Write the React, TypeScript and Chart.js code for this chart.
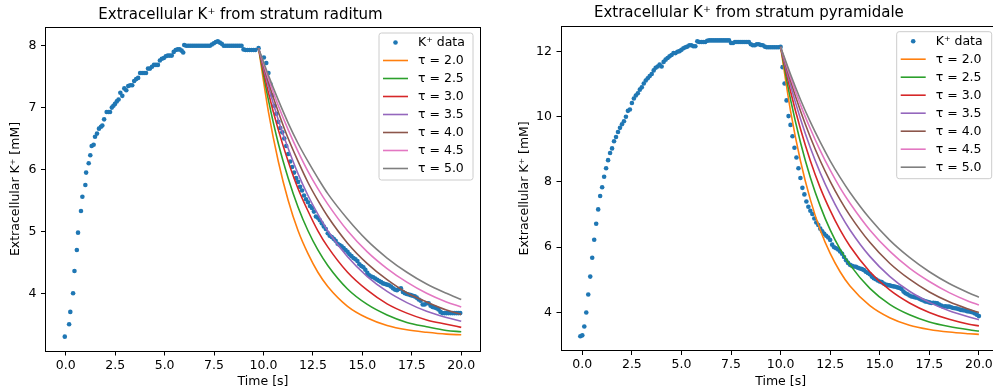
import React, { useEffect, useRef } from "react";
import { Chart, registerables } from "chart.js";

Chart.register(...registerables);

const FONT = "'DejaVu Sans', sans-serif";
const DATA_COLOR = "#1f77b4";
const TAU_LABELS = ["τ = 2.0", "τ = 2.5", "τ = 3.0", "τ = 3.5", "τ = 4.0", "τ = 4.5", "τ = 5.0"];
const TAU_COLORS = ["#ff7f0e", "#2ca02c", "#d62728", "#9467bd", "#8c564b", "#e377c2", "#7f7f7f"];
const X_TICKS = [0, 2.5, 5, 7.5, 10, 12.5, 15, 17.5, 20];
const LEFT_Y_TICKS = [4, 5, 6, 7, 8];
const RIGHT_Y_TICKS = [4, 6, 8, 10, 12];

// ---- stratum raditum data ----
const leftTime = [
  -0.05, 0.17, 0.23, 0.37, 0.44, 0.56, 0.62, 0.77, 0.84, 0.99, 1.03, 1.16, 1.24, 1.31, 1.41, 1.48, 1.58, 1.68, 1.78, 1.85,
  1.94, 2.07, 2.16, 2.24, 2.33, 2.41, 2.49, 2.58, 2.67, 2.76, 2.86, 2.96, 3.06, 3.16, 3.26, 3.36, 3.46, 3.56, 3.66, 3.76,
  3.86, 3.96, 4.06, 4.16, 4.26, 4.36, 4.46, 4.56, 4.66, 4.76, 4.86, 4.96, 5.06, 5.16, 5.26, 5.36, 5.46, 5.56, 5.66, 5.76,
  5.86, 5.94, 5.99, 6.09, 6.19, 6.29, 6.39, 6.49, 6.59, 6.69, 6.79, 6.89, 6.99, 7.09, 7.19, 7.29, 7.39, 7.49, 7.59, 7.69,
  7.79, 7.89, 7.99, 8.09, 8.19, 8.29, 8.39, 8.49, 8.59, 8.69, 8.79, 8.89, 8.99, 9.09, 9.19, 9.29, 9.39, 9.49, 9.59, 9.75,
  10.02, 10.14, 10.25, 10.35, 10.45, 10.55, 10.65, 10.75, 10.85, 10.95, 11.05, 11.15, 11.25, 11.35, 11.45, 11.55, 11.65, 11.75, 11.85, 11.95,
  12.05, 12.15, 12.25, 12.35, 12.45, 12.55, 12.65, 12.75, 12.85, 12.95, 13.05, 13.15, 13.25, 13.35, 13.45, 13.55, 13.65, 13.75, 13.85, 13.95,
  14.05, 14.15, 14.25, 14.35, 14.45, 14.55, 14.65, 14.75, 14.85, 14.95, 15.05, 15.15, 15.25, 15.35, 15.45, 15.55, 15.65, 15.75, 15.85, 15.95,
  16.05, 16.15, 16.25, 16.35, 16.45, 16.55, 16.65, 16.75, 16.85, 16.95, 17.05, 17.15, 17.25, 17.35, 17.45, 17.55, 17.65, 17.75, 17.85, 17.95,
  18.05, 18.15, 18.25, 18.35, 18.45, 18.55, 18.65, 18.75, 18.85, 18.95, 19.05, 19.15, 19.25, 19.35, 19.45, 19.55, 19.65, 19.75, 19.85, 19.95,
];
const leftK = [
  3.30, 3.50, 3.70, 4.00, 4.36, 4.70, 4.98, 5.33, 5.56, 5.75, 5.95, 6.10, 6.23, 6.38, 6.40, 6.53, 6.58, 6.66, 6.69, 6.71,
  6.81, 6.93, 6.93, 6.93, 7.00, 7.03, 7.06, 7.10, 7.13, 7.24, 7.19, 7.31, 7.28, 7.35, 7.36, 7.36, 7.43, 7.46, 7.48, 7.56,
  7.56, 7.56, 7.56, 7.63, 7.63, 7.66, 7.69, 7.69, 7.69, 7.76, 7.79, 7.80, 7.83, 7.84, 7.84, 7.84, 7.90, 7.93, 7.94, 7.94,
  7.92, 7.89, 8.01, 8.00, 8.00, 8.00, 8.00, 8.00, 8.00, 8.00, 8.00, 8.00, 8.00, 8.00, 8.00, 8.00, 8.02, 8.04, 8.06, 8.07,
  8.05, 8.03, 8.00, 8.00, 8.00, 8.00, 8.00, 8.00, 8.00, 8.00, 8.00, 8.00, 7.94, 7.93, 7.93, 7.93, 7.93, 7.93, 7.93, 7.96,
  7.81, 7.72, 7.56, 7.38, 7.20, 7.03, 6.90, 6.77, 6.67, 6.60, 6.50, 6.38, 6.25, 6.13, 6.04, 5.95, 5.86, 5.80, 5.72, 5.66,
  5.58, 5.52, 5.47, 5.41, 5.38, 5.32, 5.24, 5.22, 5.18, 5.13, 5.08, 5.04, 4.97, 4.93, 4.91, 4.88, 4.85, 4.80, 4.78, 4.76,
  4.73, 4.70, 4.67, 4.63, 4.60, 4.57, 4.55, 4.52, 4.47, 4.44, 4.42, 4.38, 4.33, 4.29, 4.27, 4.26, 4.24, 4.22, 4.20, 4.18,
  4.16, 4.15, 4.14, 4.13, 4.11, 4.08, 4.06, 4.05, 4.07, 4.08, 4.02, 4.00, 3.99, 3.98, 3.97, 3.96, 3.95, 3.93, 3.90, 3.88,
  3.82, 3.82, 3.84, 3.84, 3.80, 3.78, 3.77, 3.76, 3.74, 3.70, 3.68, 3.68, 3.68, 3.68, 3.68, 3.68, 3.68, 3.68, 3.68, 3.68,
];
const leftFitTime = [9.75, 10.25, 10.75, 11.25, 11.75, 12.25, 12.75, 13.25, 14.25, 15.25, 16.25, 17.25, 18.25, 19.25, 20.0];
const leftTau20 = [7.96, 6.93, 6.13, 5.50, 5.01, 4.64, 4.34, 4.11, 3.79, 3.60, 3.48, 3.41, 3.37, 3.34, 3.33];
const leftTau25 = [7.96, 7.12, 6.42, 5.86, 5.39, 5.01, 4.70, 4.45, 4.07, 3.82, 3.65, 3.53, 3.46, 3.40, 3.38];
const leftTau30 = [7.96, 7.24, 6.64, 6.13, 5.69, 5.33, 5.01, 4.75, 4.34, 4.05, 3.83, 3.68, 3.57, 3.50, 3.45];
const leftTau35 = [7.96, 7.34, 6.80, 6.34, 5.93, 5.58, 5.28, 5.01, 4.59, 4.27, 4.03, 3.85, 3.71, 3.61, 3.55];
const leftTau40 = [7.96, 7.41, 6.93, 6.50, 6.13, 5.79, 5.50, 5.24, 4.81, 4.48, 4.22, 4.01, 3.86, 3.73, 3.66];
const leftTau45 = [7.96, 7.47, 7.03, 6.64, 6.29, 5.97, 5.69, 5.44, 5.01, 4.67, 4.40, 4.18, 4.00, 3.86, 3.78];
const leftTau50 = [7.96, 7.52, 7.12, 6.75, 6.42, 6.13, 5.86, 5.61, 5.20, 4.85, 4.57, 4.34, 4.15, 4.00, 3.90];

// ---- stratum pyramidale data ----
const rightTime = [
  -0.1, 0.0, 0.1, 0.2, 0.3, 0.4, 0.5, 0.6, 0.7, 0.8, 0.9, 1.0, 1.1, 1.2, 1.3, 1.4, 1.5, 1.6, 1.7, 1.8,
  1.9, 2.0, 2.1, 2.2, 2.3, 2.4, 2.5, 2.6, 2.7, 2.8, 2.9, 3.0, 3.1, 3.2, 3.3, 3.4, 3.5, 3.6, 3.7, 3.8,
  3.9, 4.0, 4.1, 4.2, 4.3, 4.4, 4.5, 4.6, 4.7, 4.8, 4.9, 5.0, 5.1, 5.2, 5.3, 5.4, 5.5, 5.6, 5.7, 5.8,
  5.9, 6.0, 6.1, 6.2, 6.3, 6.4, 6.5, 6.6, 6.7, 6.8, 6.9, 7.0, 7.1, 7.2, 7.3, 7.4, 7.5, 7.6, 7.7, 7.8,
  7.9, 8.0, 8.1, 8.2, 8.3, 8.4, 8.5, 8.6, 8.7, 8.8, 8.9, 9.0, 9.1, 9.2, 9.3, 9.4, 9.5, 9.6, 9.7, 9.8,
  9.9, 10.0, 10.1, 10.2, 10.3, 10.4, 10.5, 10.6, 10.7, 10.8, 10.9, 11.0, 11.1, 11.2, 11.3, 11.4, 11.5, 11.6, 11.7, 11.8,
  11.9, 12.0, 12.1, 12.2, 12.3, 12.4, 12.5, 12.6, 12.7, 12.8, 12.9, 13.0, 13.1, 13.2, 13.3, 13.4, 13.5, 13.6, 13.7, 13.8,
  13.9, 14.0, 14.1, 14.2, 14.3, 14.4, 14.5, 14.6, 14.7, 14.8, 14.9, 15.0, 15.1, 15.2, 15.3, 15.4, 15.5, 15.6, 15.7, 15.8,
  15.9, 16.0, 16.1, 16.2, 16.3, 16.4, 16.5, 16.6, 16.7, 16.8, 16.9, 17.0, 17.1, 17.2, 17.3, 17.4, 17.5, 17.6, 17.7, 17.8,
  17.9, 18.0, 18.1, 18.2, 18.3, 18.4, 18.5, 18.6, 18.7, 18.8, 18.9, 19.0, 19.1, 19.2, 19.3, 19.4, 19.5, 19.6, 19.7, 19.8,
  19.9, 20.0,
];
const rightK = [
  3.27, 3.30, 3.57, 4.00, 4.55, 5.10, 5.68, 6.23, 6.72, 7.16, 7.57, 7.84, 8.16, 8.42, 8.67, 8.89, 9.03, 9.25, 9.38, 9.53,
  9.66, 9.77, 9.86, 10.00, 10.18, 10.22, 10.42, 10.56, 10.65, 10.72, 10.83, 10.90, 11.02, 11.11, 11.18, 11.25, 11.31, 11.42, 11.50, 11.54,
  11.60, 11.54, 11.68, 11.75, 11.80, 11.85, 11.89, 11.95, 11.95, 11.99, 12.01, 12.05, 12.10, 12.13, 12.15, 12.19, 12.19, 12.16, 12.16, 12.31,
  12.29, 12.29, 12.29, 12.29, 12.33, 12.34, 12.34, 12.34, 12.34, 12.34, 12.34, 12.34, 12.34, 12.34, 12.34, 12.34, 12.26, 12.26, 12.29, 12.29,
  12.29, 12.29, 12.29, 12.29, 12.29, 12.29, 12.22, 12.19, 12.19, 12.22, 12.22, 12.20, 12.19, 12.15, 12.13, 12.13, 12.13, 12.13, 12.13, 12.13,
  12.13, 12.14, 11.52, 11.02, 10.50, 10.02, 9.75, 9.40, 9.05, 8.75, 8.42, 8.12, 7.82, 7.62, 7.40, 7.24, 7.12, 7.02, 6.88, 6.76,
  6.68, 6.57, 6.49, 6.41, 6.35, 6.30, 6.22, 6.08, 6.00, 5.97, 5.93, 5.87, 5.80, 5.70, 5.60, 5.52, 5.46, 5.43, 5.41, 5.40,
  5.37, 5.35, 5.33, 5.30, 5.25, 5.21, 5.17, 5.10, 5.05, 5.02, 4.98, 4.95, 4.93, 4.89, 4.86, 4.84, 4.83, 4.81, 4.80, 4.79,
  4.77, 4.75, 4.72, 4.64, 4.59, 4.56, 4.52, 4.49, 4.48, 4.46, 4.45, 4.42, 4.39, 4.37, 4.34, 4.33, 4.31, 4.29, 4.30, 4.29,
  4.28, 4.24, 4.21, 4.18, 4.19, 4.18, 4.18, 4.16, 4.14, 4.13, 4.12, 4.10, 4.08, 4.07, 4.06, 4.04, 4.03, 4.02, 4.00, 3.97,
  3.93, 3.89,
];
const rightFitTime = [10.0, 10.5, 11.0, 11.5, 12.0, 12.5, 13.0, 13.5, 14.5, 15.5, 16.5, 17.5, 18.5, 19.5, 20.0];
const rightTau20 = [12.14, 10.18, 8.65, 7.46, 6.53, 5.81, 5.25, 4.81, 4.21, 3.84, 3.61, 3.48, 3.40, 3.35, 3.33];
const rightTau25 = [12.14, 10.53, 9.22, 8.14, 7.26, 6.53, 5.94, 5.46, 4.74, 4.25, 3.93, 3.71, 3.57, 3.47, 3.43];
const rightTau30 = [12.14, 10.78, 9.63, 8.65, 7.82, 7.13, 6.53, 6.03, 5.25, 4.69, 4.29, 4.00, 3.79, 3.64, 3.59];
const rightTau35 = [12.14, 10.96, 9.94, 9.05, 8.28, 7.61, 7.03, 6.53, 5.72, 5.11, 4.65, 4.31, 4.05, 3.86, 3.78];
const rightTau40 = [12.14, 11.10, 10.18, 9.37, 8.65, 8.02, 7.46, 6.97, 6.15, 5.51, 5.02, 4.63, 4.33, 4.10, 4.00];
const rightTau45 = [12.14, 11.21, 10.37, 9.63, 8.96, 8.36, 7.82, 7.35, 6.53, 5.88, 5.36, 4.95, 4.61, 4.34, 4.23];
const rightTau50 = [12.14, 11.30, 10.53, 9.84, 9.22, 8.65, 8.14, 7.68, 6.88, 6.22, 5.69, 5.25, 4.89, 4.60, 4.47];

const LEGEND_FONT_SIZE = 12.5;
const TICK_FONT_SIZE = 12.5;
const TITLE_FONT_SIZE = 15;

const frameAndLegend = {
  id: "frameAndLegend",
  afterDatasetsDraw(chart: any, _args: any, opts: any) {
    const { ctx, chartArea } = chart;
    ctx.save();
    // axes frame (spines)
    ctx.strokeStyle = "#000";
    ctx.lineWidth = 1;
    const l = Math.round(chartArea.left) + 0.5;
    const t = Math.round(chartArea.top) + 0.5;
    const r = Math.round(chartArea.right) - 0.5;
    const b = Math.round(chartArea.bottom) - 0.5;
    ctx.strokeRect(l, t, r - l, b - t);

    // legend box (upper right)
    const ds = chart.data.datasets;
    ctx.font = `${LEGEND_FONT_SIZE}px ${FONT}`;
    const padL = 4, handleLen = 25, gap = 10, rowH = 18;
    const w = opts.width;
    const h = ds.length * rowH + 3;
    const x = chartArea.right - opts.right - w;
    const y = chartArea.top + opts.top;
    const rad = 2.5;
    ctx.beginPath();
    ctx.moveTo(x + rad, y);
    ctx.lineTo(x + w - rad, y);
    ctx.arcTo(x + w, y, x + w, y + rad, rad);
    ctx.lineTo(x + w, y + h - rad);
    ctx.arcTo(x + w, y + h, x + w - rad, y + h, rad);
    ctx.lineTo(x + rad, y + h);
    ctx.arcTo(x, y + h, x, y + h - rad, rad);
    ctx.lineTo(x, y + rad);
    ctx.arcTo(x, y, x + rad, y, rad);
    ctx.closePath();
    ctx.fillStyle = "rgba(255,255,255,0.8)";
    ctx.fill();
    ctx.strokeStyle = "#cccccc";
    ctx.lineWidth = 1;
    ctx.stroke();

    ds.forEach((d: any, i: number) => {
      const cy = y + 9.5 + i * rowH;
      if (d.showLine) {
        ctx.strokeStyle = d.borderColor;
        ctx.lineWidth = 1.6;
        ctx.beginPath();
        ctx.moveTo(x + padL, cy);
        ctx.lineTo(x + padL + handleLen, cy);
        ctx.stroke();
      } else {
        ctx.fillStyle = d.backgroundColor;
        ctx.beginPath();
        ctx.arc(x + padL + handleLen / 2, cy, 2.3, 0, Math.PI * 2);
        ctx.fill();
      }
      ctx.fillStyle = "#000";
      ctx.textBaseline = "middle";
      ctx.textAlign = "left";
      ctx.fillText(d.label, x + padL + handleLen + gap, cy + 0.5);
    });
    ctx.restore();
  },
};

type PanelCfg = {
  title: string;
  time: number[];
  k: number[];
  fitTime: number[];
  fits: number[][];
  xMin: number;
  xMax: number;
  yMin: number;
  yMax: number;
  yTicks: number[];
  yWidth: number;
  xHeight: number;
  padRight: number;
  titleTop: number;
  titleBottom: number;
  yTitlePad: number;
  legendRight: number;
  legendTop: number;
  legendWidth: number;
  width: number;
  left: number;
};

const leftPanel: PanelCfg = {
  title: "Extracellular K⁺ from stratum raditum",
  time: leftTime,
  k: leftK,
  fitTime: leftFitTime,
  fits: [leftTau20, leftTau25, leftTau30, leftTau35, leftTau40, leftTau45, leftTau50],
  xMin: -1.05, xMax: 21.0, yMin: 3.06, yMax: 8.31,
  yTicks: LEFT_Y_TICKS,
  yWidth: 45, xHeight: 37.5, padRight: 16,
  titleTop: 6, titleBottom: 2.5, yTitlePad: 8.5,
  legendRight: 8, legendTop: 6.5, legendWidth: 94,
  width: 497, left: 0,
};

const rightPanel: PanelCfg = {
  title: "Extracellular K⁺ from stratum pyramidale",
  time: rightTime,
  k: rightK,
  fitTime: rightFitTime,
  fits: [rightTau20, rightTau25, rightTau30, rightTau35, rightTau40, rightTau45, rightTau50],
  xMin: -1.1, xMax: 21.1, yMin: 2.82, yMax: 12.79,
  yTicks: RIGHT_Y_TICKS,
  yWidth: 63.5, xHeight: 38, padRight: 16.3,
  titleTop: 4.3, titleBottom: 3.4, yTitlePad: 19.8,
  legendRight: 9, legendTop: 6, legendWidth: 95,
  width: 520, left: 497,
};

function buildConfig(p: PanelCfg): any {
  const tickFont = { family: FONT, size: TICK_FONT_SIZE };
  const datasets: any[] = [
    {
      label: "K⁺ data",
      data: p.time.map((t, i) => ({ x: t, y: p.k[i] })),
      backgroundColor: DATA_COLOR,
      borderColor: DATA_COLOR,
      pointRadius: 2.3,
      pointBorderWidth: 0,
      showLine: false,
      order: 100,
    },
    ...p.fits.map((f, i) => ({
      label: TAU_LABELS[i],
      data: p.fitTime.map((t, j) => ({ x: t, y: f[j] })),
      borderColor: TAU_COLORS[i],
      backgroundColor: TAU_COLORS[i],
      borderWidth: 1.6,
      pointRadius: 0,
      showLine: true,
      fill: false,
      cubicInterpolationMode: "monotone",
      order: 10 - i,
    })),
  ];
  return {
    type: "scatter",
    data: { datasets },
    plugins: [frameAndLegend],
    options: {
      responsive: false,
      animation: false,
      devicePixelRatio: 1,
      layout: { padding: { left: 0, right: p.padRight, top: 0, bottom: 0 } },
      plugins: {
        legend: { display: false },
        tooltip: { enabled: false },
        title: {
          display: true,
          text: p.title,
          color: "#000",
          font: { family: FONT, size: TITLE_FONT_SIZE, weight: "normal" },
          padding: { top: p.titleTop, bottom: p.titleBottom },
        },
        frameAndLegend: { right: p.legendRight, top: p.legendTop, width: p.legendWidth },
      },
      scales: {
        x: {
          type: "linear",
          min: p.xMin,
          max: p.xMax,
          afterBuildTicks: (s: any) => {
            s.ticks = X_TICKS.map((v) => ({ value: v }));
          },
          afterFit: (s: any) => {
            s.height = p.xHeight;
          },
          ticks: {
            font: tickFont,
            color: "#000",
            padding: 2.5,
            maxRotation: 0,
            autoSkip: false,
            callback: (v: any) => Number(v).toFixed(1),
          },
          grid: { display: true, drawOnChartArea: false, drawTicks: true, tickLength: 4, tickColor: "#000", tickWidth: 1 },
          border: { display: false },
          title: {
            display: true,
            text: "Time [s]",
            color: "#000",
            font: tickFont,
            padding: { top: 0, bottom: 0 },
          },
        },
        y: {
          type: "linear",
          min: p.yMin,
          max: p.yMax,
          afterBuildTicks: (s: any) => {
            s.ticks = p.yTicks.map((v) => ({ value: v }));
          },
          afterFit: (s: any) => {
            s.width = p.yWidth;
          },
          ticks: {
            font: tickFont,
            color: "#000",
            padding: 4.5,
            autoSkip: false,
            callback: (v: any) => String(v),
          },
          grid: { display: true, drawOnChartArea: false, drawTicks: true, tickLength: 4, tickColor: "#000", tickWidth: 1 },
          border: { display: false },
          title: {
            display: true,
            text: "Extracellular K⁺ [mM]",
            color: "#000",
            font: tickFont,
            padding: { top: p.yTitlePad, bottom: 0 },
          },
        },
      },
    },
  };
}

function Panel({ cfg }: { cfg: PanelCfg }) {
  const ref = useRef<HTMLCanvasElement | null>(null);
  useEffect(() => {
    if (!ref.current) return;
    const chart = new Chart(ref.current, buildConfig(cfg));
    return () => chart.destroy();
  }, [cfg]);
  return (
    <canvas
      ref={ref}
      width={cfg.width}
      height={389}
      style={{ position: "absolute", left: cfg.left, top: 0, width: cfg.width, height: 389 }}
    />
  );
}

export default function App() {
  return (
    <div
      style={{
        position: "fixed",
        left: 0,
        top: 0,
        width: 993,
        height: 389,
        overflow: "hidden",
        background: "#fff",
      }}
    >
      <Panel cfg={leftPanel} />
      <Panel cfg={rightPanel} />
    </div>
  );
}
